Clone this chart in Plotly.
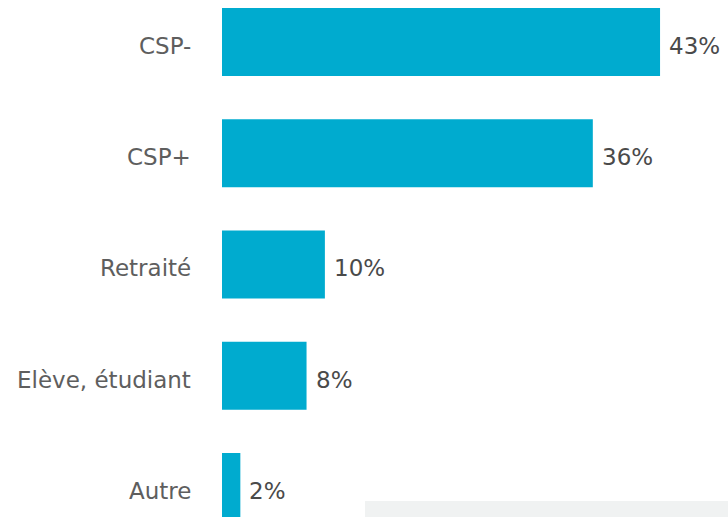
import plotly.graph_objects as go

categories = ["CSP-", "CSP+", "Retraité", "Elève, étudiant", "Autre"]
values = [43.0, 36.4, 10.1, 8.3, 1.8]
labels = ["43%", "36%", "10%", "8%", "2%"]

BAR_COLOR = "#00ABCF"
FONT = "DejaVu Sans, sans-serif"

fig = go.Figure(
    go.Bar(
        x=values,
        y=categories,
        orientation="h",
        marker=dict(color=BAR_COLOR, line=dict(width=0)),
        hoverinfo="skip",
    )
)

for c, v, t in zip(categories, values, labels):
    fig.add_annotation(
        x=v, y=c, text=t, xref="x", yref="y",
        xanchor="left", yanchor="middle", xshift=7, yshift=-4,
        showarrow=False,
        font=dict(family=FONT, size=23, color="#4a4a4a"),
    )
    fig.add_annotation(
        x=0, y=c, text=c, xref="x", yref="y",
        xanchor="right", yanchor="middle", xshift=-29, yshift=-4,
        showarrow=False,
        font=dict(family=FONT, size=23, color="#5e5e5e"),
    )

fig.add_shape(
    type="rect", xref="paper", yref="paper",
    x0=0.2826, x1=1.0, y0=0.0, y1=0.031,
    fillcolor="#F0F2F2", line=dict(width=0), layer="below",
)

fig.update_layout(
    width=728, height=517,
    margin=dict(l=222, r=0, t=0, b=0),
    paper_bgcolor="white", plot_bgcolor="white",
    bargap=0.39,
    showlegend=False,
    font=dict(family=FONT),
    xaxis=dict(range=[0, 49.67], visible=False, fixedrange=True),
    yaxis=dict(
        type="category",
        range=[4.27, -0.3775],
        showgrid=False, zeroline=False, showline=False,
        showticklabels=False,
        fixedrange=True,
    ),
)

fig.write_html(
    "out.html",
    config={"displayModeBar": False},
    post_script="document.body.style.margin='0';document.body.style.overflow='hidden';",
)
